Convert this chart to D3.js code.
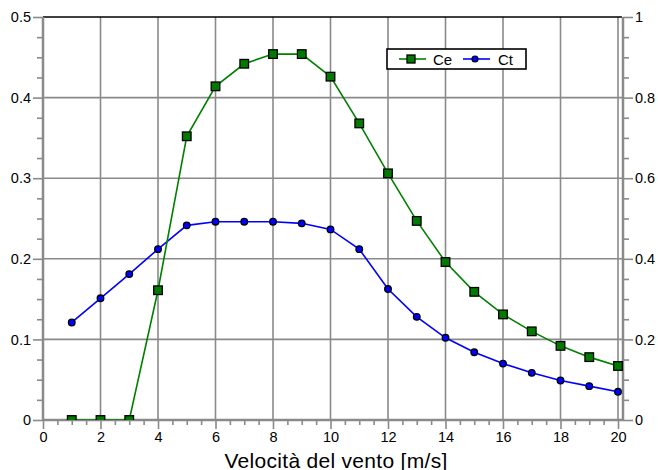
<!DOCTYPE html>
<html>
<head>
<meta charset="utf-8">
<script src="https://cdn.jsdelivr.net/npm/d3@7"></script>
<style>
  body { margin: 0; background: #fff; }
  text { font-family: "Liberation Sans", Arial, sans-serif; }
</style>
</head>
<body>
<div id="chart"></div>
<script>
const speeds = [1, 2, 3, 4, 5, 6, 7, 8, 9, 10, 11, 12, 13, 14, 15, 16, 17, 18, 19, 20];
const ceValues = [0, 0, 0, 0.161, 0.352, 0.414, 0.442, 0.454, 0.454, 0.426, 0.368, 0.306, 0.247, 0.196, 0.159, 0.131, 0.110, 0.092, 0.078, 0.067];
const ctValues = [0.242, 0.302, 0.362, 0.424, 0.483, 0.492, 0.492, 0.492, 0.488, 0.473, 0.424, 0.325, 0.256, 0.204, 0.168, 0.140, 0.117, 0.098, 0.084, 0.070];
const xTicks = [0, 2, 4, 6, 8, 10, 12, 14, 16, 18, 20];
const leftTicks = [0, 0.1, 0.2, 0.3, 0.4, 0.5];
const rightTicks = [0, 0.2, 0.4, 0.6, 0.8, 1];
const seriesNames = ["Ce", "Ct"];
const xTitle = "Velocità del vento [m/s]";

(() => {
    const width = 658, height = 470;
    const left = 43, right = 623, top = 17, bottom = 420;
    const gridColor = "#8a8a8a";

    const svg = d3.select("#chart").append("svg")
        .attr("width", width).attr("height", height);

    const x = d3.scaleLinear().domain([0, 20]).range([left, 618]);
    const yL = d3.scaleLinear().domain([0, 0.5]).range([bottom, top]);
    const yR = d3.scaleLinear().domain([0, 1]).range([bottom, top]);

    svg.append("defs").append("clipPath").attr("id", "clip")
        .append("rect").attr("x", left).attr("y", top)
        .attr("width", right - left).attr("height", bottom - top);

    // grid
    const grid = svg.append("g");
    grid.selectAll(".vg").data(xTicks.filter(d => d > 0)).enter().append("line")
        .attr("x1", d => x(d)).attr("x2", d => x(d))
        .attr("y1", top).attr("y2", bottom)
        .attr("stroke", gridColor).attr("stroke-width", 1.6);
    grid.selectAll(".hg").data(leftTicks.filter(d => d > 0 && d < 0.5)).enter().append("line")
        .attr("x1", left).attr("x2", right)
        .attr("y1", d => yL(d)).attr("y2", d => yL(d))
        .attr("stroke", gridColor).attr("stroke-width", 1.6);

    // top border
    svg.append("line").attr("x1", left).attr("x2", right - 1)
        .attr("y1", top).attr("y2", top)
        .attr("stroke", "#000").attr("stroke-width", 1.6);

    const fmt = d => String(+d.toFixed(3));

    // left axis
    const axL = d3.axisLeft(yL).tickValues(leftTicks).tickSize(10).tickFormat(fmt).tickPadding(2);
    const gL = svg.append("g").attr("transform", `translate(${left},0)`).call(axL);
    const axLm = d3.axisLeft(yL).tickValues(d3.range(0, 0.5, 0.025).filter((d, i) => i % 4 !== 0)).tickSize(6).tickFormat("");
    const gLm = svg.append("g").attr("transform", `translate(${left},0)`).call(axLm);

    // right axis
    const axR = d3.axisRight(yR).tickValues(rightTicks).tickSize(10).tickFormat(fmt).tickPadding(2);
    const gR = svg.append("g").attr("transform", `translate(${right},0)`).call(axR);
    const axRm = d3.axisRight(yR).tickValues(d3.range(0, 1, 0.05).filter((d, i) => i % 4 !== 0)).tickSize(6).tickFormat("");
    const gRm = svg.append("g").attr("transform", `translate(${right},0)`).call(axRm);

    // bottom axis
    const axB = d3.axisBottom(x).tickValues(xTicks).tickSize(9).tickFormat(d => d).tickPadding(3);
    const gB = svg.append("g").attr("transform", `translate(0,${bottom})`).call(axB);
    const axBm = d3.axisBottom(x).tickValues(d3.range(0, 20, 0.5).filter((d, i) => i % 4 !== 0)).tickSize(5).tickFormat("");
    const gBm = svg.append("g").attr("transform", `translate(0,${bottom})`).call(axBm);

    [gL, gLm, gR, gRm, gB, gBm].forEach(g => {
        g.select(".domain").remove();
        g.selectAll(".tick line").attr("stroke", gridColor).attr("stroke-width", 1.6);
        g.selectAll("text").attr("fill", "#000").style("font-size", "14.5px")
            .style("font-family", "'Liberation Sans', Arial, sans-serif");
    });

    // axis lines
    svg.append("line").attr("x1", left).attr("x2", left).attr("y1", top).attr("y2", bottom + 1)
        .attr("stroke", gridColor).attr("stroke-width", 2.5);
    svg.append("line").attr("x1", left).attr("x2", right).attr("y1", bottom).attr("y2", bottom)
        .attr("stroke", gridColor).attr("stroke-width", 2.5);
    svg.append("line").attr("x1", right).attr("x2", right).attr("y1", top).attr("y2", bottom + 1)
        .attr("stroke", gridColor).attr("stroke-width", 2.5);

    // series
    const ceData = speeds.map((s, i) => ({ x: s, y: ceValues[i] }));
    const ctData = speeds.map((s, i) => ({ x: s, y: ctValues[i] }));
    const plot = svg.append("g").attr("clip-path", "url(#clip)");

    plot.append("path").datum(ctData)
        .attr("fill", "none").attr("stroke", "#0000ff").attr("stroke-width", 1.6)
        .attr("d", d3.line().x(d => x(d.x)).y(d => yR(d.y)));
    plot.selectAll(".ct").data(ctData).enter().append("circle")
        .attr("cx", d => x(d.x)).attr("cy", d => yR(d.y)).attr("r", 3.3)
        .attr("fill", "#0000ff").attr("stroke", "#000").attr("stroke-width", 1.3);

    plot.append("path").datum(ceData)
        .attr("fill", "none").attr("stroke", "#008000").attr("stroke-width", 1.6)
        .attr("d", d3.line().x(d => x(d.x)).y(d => yL(d.y)));
    plot.selectAll(".ce").data(ceData).enter().append("rect")
        .attr("x", d => x(d.x) - 4.3).attr("y", d => yL(d.y) - 4.3)
        .attr("width", 8.6).attr("height", 8.6)
        .attr("fill", "#007a00").attr("stroke", "#000").attr("stroke-width", 1.3);

    // legend
    const lg = svg.append("g");
    lg.append("rect").attr("x", 387).attr("y", 49).attr("width", 139).attr("height", 20)
        .attr("fill", "#fff").attr("stroke", "#000").attr("stroke-width", 1.6);
    lg.append("line").attr("x1", 399).attr("x2", 426).attr("y1", 59).attr("y2", 59)
        .attr("stroke", "#008000").attr("stroke-width", 1.6);
    lg.append("rect").attr("x", 407).attr("y", 55).attr("width", 8).attr("height", 8)
        .attr("fill", "#007a00").attr("stroke", "#000").attr("stroke-width", 1.3);
    lg.append("text").attr("x", 433).attr("y", 65).style("font-size", "15px").text(seriesNames[0]);
    lg.append("line").attr("x1", 463).attr("x2", 490).attr("y1", 59).attr("y2", 59)
        .attr("stroke", "#0000ff").attr("stroke-width", 1.6);
    lg.append("circle").attr("cx", 475).attr("cy", 59).attr("r", 3)
        .attr("fill", "#0000ff").attr("stroke", "#000").attr("stroke-width", 1.2);
    lg.append("text").attr("x", 498).attr("y", 65).style("font-size", "15px").text(seriesNames[1]);

    // x title
    svg.append("text").attr("x", 336).attr("y", 467.5).attr("text-anchor", "middle")
        .style("font-size", "21px").style("letter-spacing", "0.3px").text(xTitle);
})();
</script>
</body>
</html>
